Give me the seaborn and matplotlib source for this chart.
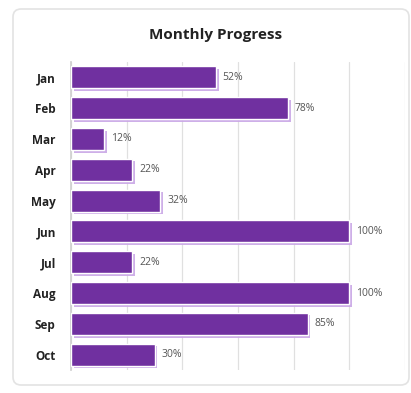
import matplotlib
matplotlib.use("Agg")
import matplotlib.pyplot as plt
import matplotlib.patheffects as pe
from matplotlib.patches import FancyBboxPatch
import seaborn as sns
import pandas as pd

months = ["Jan", "Feb", "Mar", "Apr", "May", "Jun", "Jul", "Aug", "Sep", "Oct"]
progress = [52, 78, 12, 22, 32, 100, 22, 100, 85, 30]
title = "Monthly Progress"

df = pd.DataFrame({"month": months, "progress": progress})

sns.set_theme(style="white")
plt.rcParams["font.family"] = ["Open Sans", "DejaVu Sans"]

fig = plt.figure(figsize=(4.11, 3.93), dpi=100)
fig.patch.set_facecolor("white")

card = FancyBboxPatch((13 / 411, 8 / 393), 396 / 411, 376 / 393,
                      boxstyle="round,pad=0,rounding_size=0.02",
                      transform=fig.transFigure, facecolor="white",
                      edgecolor="#e3e3e3", linewidth=1.2, zorder=-10)
fig.patches.append(card)

ax = fig.add_axes([71 / 411, 23 / 393, 334 / 411, 308 / 393])
ax.set_facecolor("none")
ax.set_zorder(5)

sns.barplot(data=df, x="progress", y="month", orient="h", color="#7030A0",
            saturation=1, width=0.72, ax=ax, zorder=3)

for p in ax.patches:
    p.set_path_effects([pe.SimplePatchShadow(offset=(2, -2), shadow_rgbFace="#c9a6e6", alpha=0.9),
                        pe.Normal()])

for i, v in enumerate(progress):
    ax.text(v + 2.5, i, f"{v}%", va="center", ha="left", fontsize=7.5, color="#555555")

ax.set_xlim(0, 120)
ax.set_xticks(range(0, 121, 20))
ax.set_xticklabels([])
ax.tick_params(axis="x", length=0)
ax.tick_params(axis="y", length=0, pad=11)
ax.grid(axis="x", color="#e0e0e0", linewidth=0.9, zorder=0)
ax.set_axisbelow(True)
for lab in ax.get_yticklabels():
    lab.set_fontweight("bold")
    lab.set_fontsize(8.5)
    lab.set_color("#222222")
ax.set_xlabel("")
ax.set_ylabel("")
for s in ["top", "right", "bottom"]:
    ax.spines[s].set_visible(False)
ax.spines["left"].set_color("#d0d0d0")

fig.text(216 / 411, 1 - 35 / 393, title, ha="center", va="center",
         fontsize=11, fontweight="bold", color="#222222")

fig.savefig("out.png", dpi=100)
